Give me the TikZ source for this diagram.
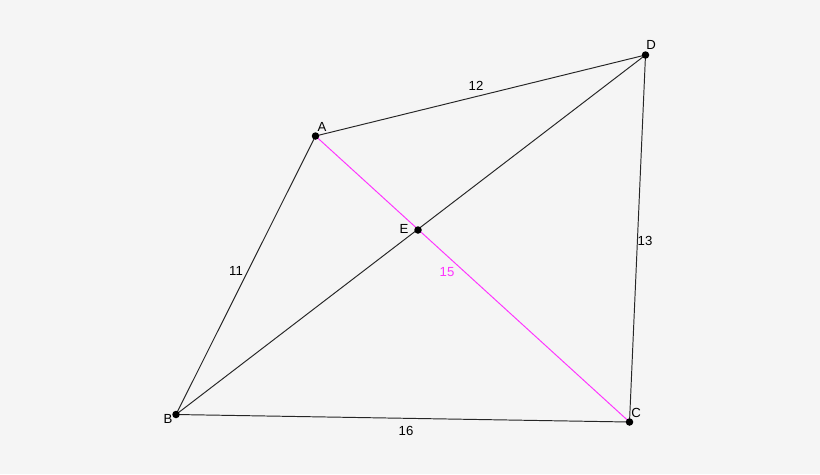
\documentclass[tikz,border=0pt]{standalone}
\usepackage{fontspec}
\setmainfont{Liberation Sans}
\usepackage{xcolor}
\usetikzlibrary{arrows, arrows.meta}
\definecolor{bgcol}{HTML}{F5F5F5}
\definecolor{diag}{HTML}{FF33FF}
\pgfdeclarelayer{bg}
\pgfsetlayers{bg,main}
\tikzset{
	pt/.style={circle, fill=black, inner sep=0pt, minimum size=0.15cm},
	lbl/.style={inner sep=0pt, font=\fontsize{7.5}{9}\selectfont},
	side/.style={line width=0.55pt, draw=black!85}
}

\begin{document}
\begin{tikzpicture}[x=0.02cm, y=-0.02cm]
				\begin{pgfonlayer}{bg}
				\fill[bgcol] (0,0) rectangle (820,474);
				\end{pgfonlayer}
				\useasboundingbox (0,0) rectangle (820,474);
				\node(nodeA) at (315.5,136){};
				\node(nodeB) at (176,414.5){};
				\node(nodeC) at (629.5,422){};
				\node(nodeD) at (645.5,55){};
				\node(nodeE) at (418,230){};
				\draw[side] (nodeA.center) -- (nodeD.center);
				\draw[side] (nodeA.center) -- (nodeB.center);
				\draw[side] (nodeB.center) -- (nodeC.center);
				\draw[side] (nodeD.center) -- (nodeC.center);
				\draw[side] (nodeB.center) -- (nodeD.center);
				\draw[side, draw=diag] (nodeA.center) -- (nodeC.center);
				\node[pt] at (nodeA.center){};
				\node[pt] at (nodeB.center){};
				\node[pt] at (nodeC.center){};
				\node[pt] at (nodeD.center){};
				\node[pt] at (nodeE.center){};
				\node[lbl](labA) at (322,127){A};
				\node[lbl](labB) at (168,419){B};
				\node[lbl](labC) at (636,413){C};
				\node[lbl](labD) at (651,45){D};
				\node[lbl](labE) at (404,229){E};
				\node[lbl](labAD) at (476,86){12};
				\node[lbl](labAB) at (236,271){11};
				\node[lbl](labDC) at (645,241){13};
				\node[lbl](labBC) at (406,431){16};
				\node[lbl, text=diag](labAC) at (447,272){15};
			\end{tikzpicture}
\end{document}
